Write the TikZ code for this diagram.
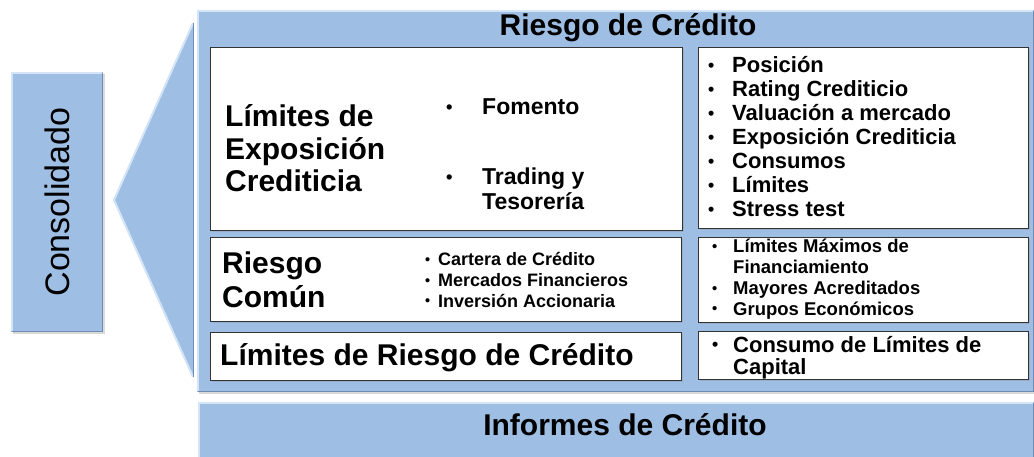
\documentclass[tikz,border=0pt]{standalone}
\usepackage{fontspec}
\setmainfont{Liberation Sans}
\usetikzlibrary{shadows}

\definecolor{panelblue}{RGB}{158,190,228}
\definecolor{panellight}{RGB}{212,228,247}
\definecolor{paneldark}{RGB}{112,140,178}
\newcommand{\bul}[1]{\makebox[#1][l]{\raisebox{0.06em}{\scalebox{0.8}{\textbullet}}}}

\begin{document}
\begin{tikzpicture}[x=1pt, y=-1pt,
    panel/.style = {shape=rectangle, fill=panelblue, anchor=north west,
      inner sep=0pt,
      drop shadow={shadow xshift=1.5pt, shadow yshift=-1.5pt, opacity=.3}},
    card/.style = {shape=rectangle, fill=white, draw=black!80,
      line width=1.2pt, anchor=north west, inner sep=0pt,
      drop shadow={shadow xshift=1pt, shadow yshift=-1pt, opacity=.25}},
    txt/.style = {inner sep=0pt, anchor=base west, align=left},
    big/.style = {txt, font=\bfseries\fontsize{30}{32.5}\selectfont},
    list/.style = {txt, font=\bfseries\fontsize{22}{24}\selectfont},
    small/.style = {txt, font=\bfseries\fontsize{18}{20.5}\selectfont}]
  \useasboundingbox (0,0) rectangle (1034,457);

  % blue panels
  \node[panel, minimum width=92pt, minimum height=260pt] (consol) at (11,72) {};
  \node[panel, minimum width=837pt, minimum height=382pt] (riesgo) at (197,10) {};
  \node[panel, minimum width=836pt, minimum height=60pt] (informes) at (198,402) {};
  \foreach \p in {consol, riesgo, informes} {
    \draw[panellight, line width=2pt]
      ([xshift=1pt,yshift=1pt]\p.south west) -- ([xshift=1pt,yshift=-1pt]\p.north west)
      -- ([xshift=-1pt,yshift=-1pt]\p.north east);
    \draw[paneldark, line width=1.5pt]
      ([xshift=-1pt,yshift=-1pt]\p.north east) -- ([xshift=-1pt,yshift=1pt]\p.south east)
      -- ([xshift=1pt,yshift=1pt]\p.south west);
  }

  % callout wedge
  \coordinate (apex) at (114,200);
  \coordinate (wtop) at (193,23);
  \coordinate (wbot) at (193,377);
  \fill[panelblue] (apex) -- (wtop) -- (wbot) -- cycle;
  \draw[panellight, line width=2pt] (wbot) -- (apex) -- (wtop);
  \draw[paneldark, line width=1pt] (wtop) -- (wbot);

  \node[inner sep=0pt, rotate=90, font=\fontsize{34}{40}\selectfont] (consoltxt)
    at (57,202) {Consolidado};

  % white cards
  \node[card, minimum width=472pt, minimum height=183pt] (expo) at (210,47) {};
  \node[card, minimum width=330pt, minimum height=181pt] (expolist) at (698,47) {};
  \node[card, minimum width=471pt, minimum height=84pt] (comun) at (210,237) {};
  \node[card, minimum width=330pt, minimum height=85pt] (comunlist) at (698,237) {};
  \node[card, minimum width=471pt, minimum height=48pt] (limites) at (210,332) {};
  \node[card, minimum width=330pt, minimum height=48pt] (limiteslist) at (698,331) {};

  % headings
  \node[big, anchor=base] (title) at (628,36) {Riesgo de Crédito};
  \node[big, anchor=base] (informestxt) at (625,435) {Informes de Crédito};

  % texts
  \node[big] (expotxt) at (225,127)
    {\begin{tabular}[t]{@{}l@{}}Límites de\\Exposición\\Crediticia\end{tabular}};
  \node[txt, font=\bfseries\fontsize{23}{25}\selectfont] (fomento) at (446,115)
    {\bul{36pt}Fomento};
  \node[txt, font=\bfseries\fontsize{23}{25}\selectfont] (trading) at (446,185)
    {\begin{tabular}[t]{@{}l@{}}\bul{36pt}Trading y\\\hspace*{36pt}Tesorería\end{tabular}};
  \node[list] (expoitems) at (708,73)
    {\begin{tabular}[t]{@{}l@{}}\bul{24pt}Posición\\\bul{24pt}Rating Crediticio\\
      \bul{24pt}Valuación a mercado\\\bul{24pt}Exposición Crediticia\\
      \bul{24pt}Consumos\\\bul{24pt}Límites\\\bul{24pt}Stress test\end{tabular}};

  \node[txt, font=\bfseries\fontsize{30}{35}\selectfont] (comuntxt) at (222,273)
    {\begin{tabular}[t]{@{}l@{}}Riesgo\\Común\end{tabular}};
  \node[small] (carteras) at (425,266)
    {\begin{tabular}[t]{@{}l@{}}\bul{13pt}Cartera de Crédito\\
      \bul{13pt}Mercados Financieros\\\bul{13pt}Inversión Accionaria\end{tabular}};
  \node[txt, font=\bfseries\fontsize{18.5}{20.7}\selectfont] (comunitems) at (712,253)
    {\begin{tabular}[t]{@{}l@{}}\bul{21pt}Límites Máximos de\\\hspace*{21pt}Financiamiento\\
      \bul{21pt}Mayores Acreditados\\\bul{21pt}Grupos Económicos\end{tabular}};

  \node[big] (limitestxt) at (220,365) {Límites de Riesgo de Crédito};
  \node[list, font=\bfseries\fontsize{22}{21.5}\selectfont] (limitesitems) at (712,352)
    {\begin{tabular}[t]{@{}l@{}}\bul{21pt}Consumo de Límites de\\\hspace*{21pt}Capital\end{tabular}};
\end{tikzpicture}
\end{document}
